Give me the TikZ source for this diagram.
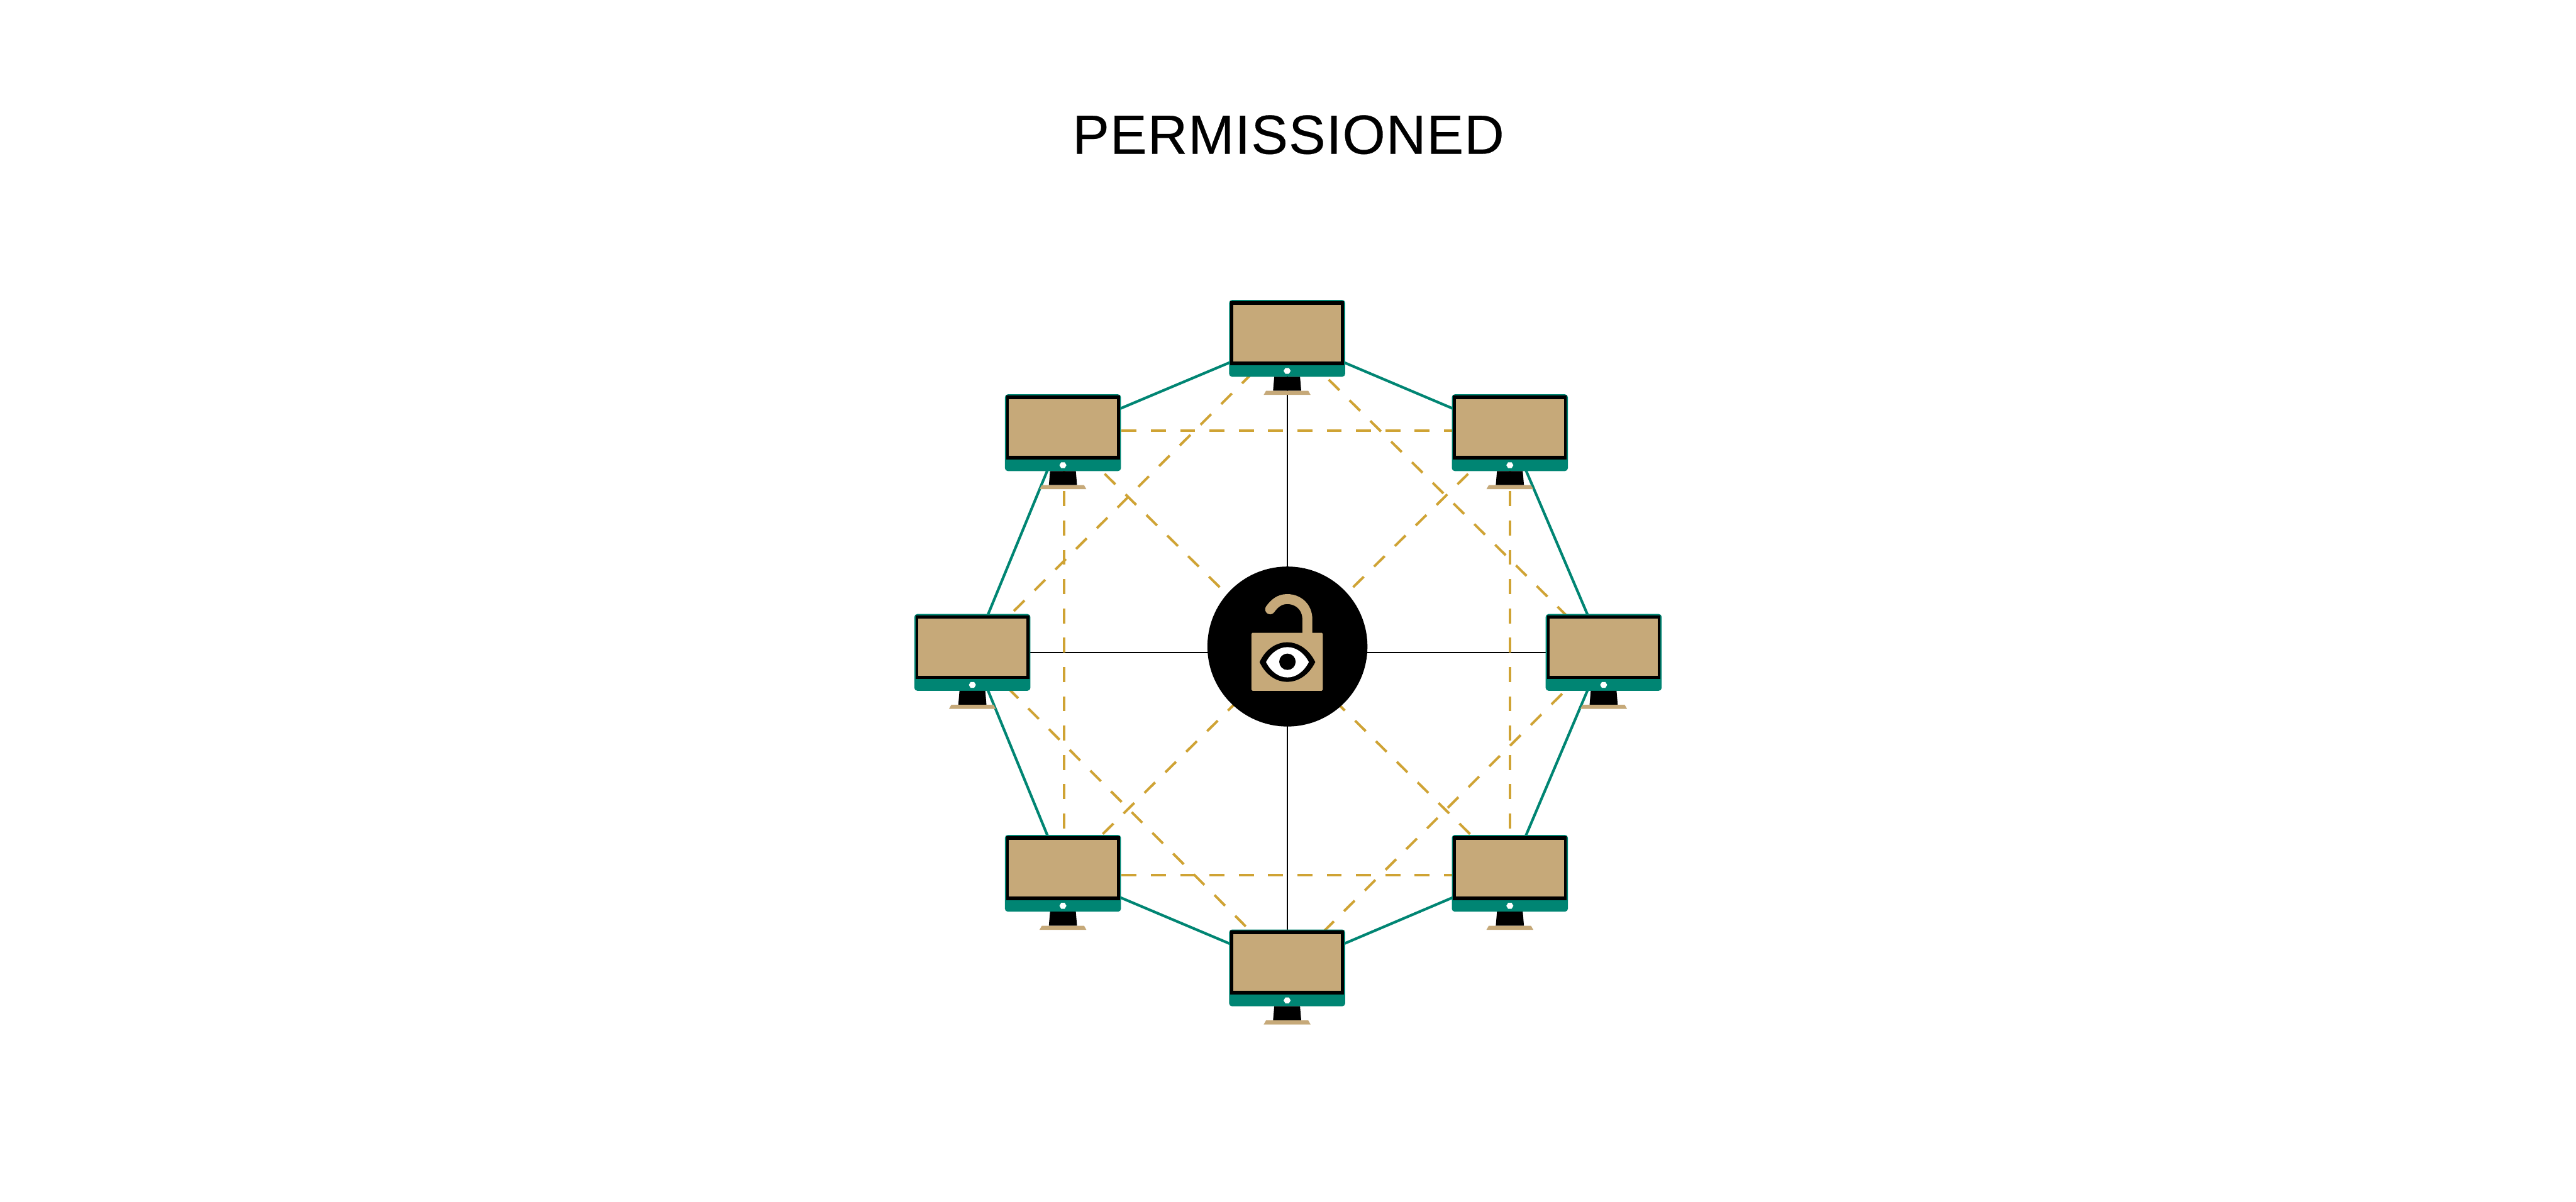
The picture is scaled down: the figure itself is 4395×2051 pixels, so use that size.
\documentclass[tikz,border=0pt]{standalone}
\usepackage{fontspec}
\setmainfont{Liberation Sans}
\newfontfamily\titlefont[LetterSpace=1.5,FakeBold=0.3]{Liberation Sans}
\usetikzlibrary{backgrounds,calc}
\definecolor{tealc}{HTML}{008573}
\definecolor{tanc}{HTML}{C6A979}
\definecolor{dashc}{HTML}{CFA334}
\tikzset{
 x=0.2pt,y=-0.2pt,
 monbody/.style={shape=rectangle,rounded corners=1pt,fill=tealc,inner sep=0pt,minimum width=39.6pt,minimum height=26.2pt},
 hubnode/.style={shape=circle,fill=black,inner sep=0pt,minimum size=54.6pt},
 ringline/.style={draw=tealc,line width=0.9pt},
 spoke/.style={draw=black,line width=0.4pt},
 meshline/.style={draw=dashc,line width=0.85pt,dash pattern=on 5.1pt off 4.9pt},
 titletext/.style={font=\titlefont\fontsize{18.8pt}{24pt}\selectfont,inner sep=0pt,text=black}
}
\newcommand{\monitor}[3]{%
 \node[monbody] (#1) at (#2,#3) {};
 \begin{scope}[shift={(#2,#3)}]
  \fill[black] (-97,-63.5) rectangle (97,45.5);
  \fill[tanc] (-92,-57.5) rectangle (92,39.5);
  \fill[white] (-6,55.5) -- (-3,50.5) -- (3,50.5) -- (6,55.5) -- (3,60.5) -- (-3,60.5) -- cycle;
  \fill[black] (-22,65.5) -- (22,65.5) -- (24,89.5) -- (-24,89.5) -- cycle;
  \fill[tanc] (-36,89.5) -- (36,89.5) -- (40,96.5) -- (-40,96.5) -- cycle;
 \end{scope}%
}
\begin{document}
\begin{tikzpicture}
\useasboundingbox (0,0) rectangle (4395,2051);
\node[titletext] (title) at (2198,230) {PERMISSIONED};
\monitor{top}{2196}{577.5}
\monitor{ur}{2576}{738.5}
\monitor{right}{2736}{1113.5}
\monitor{lr}{2576}{1490.5}
\monitor{bot}{2196}{1652}
\monitor{ll}{1813.5}{1490.5}
\monitor{left}{1659}{1113.5}
\monitor{ul}{1813.5}{738.5}
\node[hubnode] (hub) at (2196.5,1103.5) {};
\fill[tanc,rounded corners=0.4pt] (2135,1080) rectangle (2257,1179);
\draw[tanc,line width=3.4pt,line cap=round] (2230.5,1082) -- (2230.5,1057) .. controls (2230.5,1036) and (2215,1022.5) .. (2196,1022.5) .. controls (2183,1022.5) and (2174,1030) .. (2167,1040);
\fill[black] (2149,1130) .. controls (2170,1085) and (2222,1085) .. (2244,1130) .. controls (2222,1175) and (2170,1175) .. (2149,1130) -- cycle;
\fill[white] (2160,1130) .. controls (2178,1096) and (2215,1096) .. (2233,1130) .. controls (2215,1165) and (2178,1165) .. (2160,1130) -- cycle;
\fill[black] (2196.5,1129.5) circle[radius=14];
\begin{scope}[on background layer]
 \fill[white] (0,0) rectangle (4395,2051);
 \draw[ringline] (top.center) -- (ur.center) -- (right.center) -- (lr.center) -- (bot.center) -- (ll.center) -- (left.center) -- (ul.center) -- cycle;
 \draw[spoke] (top.center) -- (bot.center);
 \draw[spoke] (left.center) -- (right.center);
 \draw[meshline] ($(ul.center)+(0,-4)$) -- ($(ur.center)+(0,-4)$);
 \draw[meshline] ($(ll.center)+(0,3.5)$) -- ($(lr.center)+(0,3.5)$);
 \draw[meshline] ($(ul.center)+(2,0)$) -- ($(ll.center)+(2,0)$);
 \draw[meshline] (ur.center) -- (lr.center);
 \draw[meshline] (left.center) -- (top.center);
 \draw[meshline] (top.center) -- (right.center);
 \draw[meshline] (right.center) -- (bot.center);
 \draw[meshline] (bot.center) -- (left.center);
 \draw[meshline] (ul.center) -- (lr.center);
 \draw[meshline] (ur.center) -- (ll.center);
\end{scope}
\end{tikzpicture}
\end{document}
